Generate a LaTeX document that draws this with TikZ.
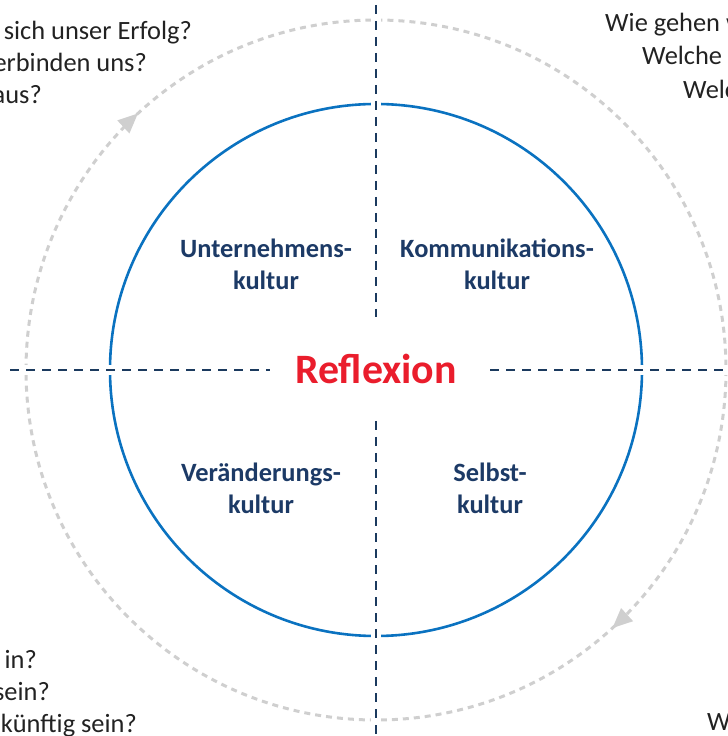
\documentclass[tikz,border=0pt]{standalone}
\usepackage{fontspec}
\setmainfont{Carlito}
\usetikzlibrary{calc, arrows.meta, decorations.markings}

\definecolor{kreisblau}{HTML}{0A72C0}
\definecolor{achsenblau}{HTML}{1B3A5E}
\definecolor{textblau}{HTML}{1C3A66}
\definecolor{reflexrot}{HTML}{EA1D2C}
\definecolor{pfeilgrau}{HTML}{CFCFCF}
\definecolor{fragegrau}{HTML}{222222}

\begin{document}
\begin{tikzpicture}[x=1bp, y=1bp,
    frage/.style={inner sep=0pt, text=fragegrau, font=\fontsize{26.5}{32}\selectfont},
    kultur/.style={inner sep=0pt, align=center, text=textblau, font=\fontsize{26.5}{32}\selectfont\bfseries},
    achse/.style={achsenblau, line width=2.2bp, dash pattern=on 9bp off 7bp},
    halo/.style={white, line width=10bp}]
    \useasboundingbox (0,0) rectangle (728,736);
    \clip (0,0) rectangle (728,736);

    \coordinate (M) at (376,366);
    \coordinate (O) at (376,731);
    \coordinate (U) at (376,0);
    \coordinate (L) at (10,366);
    \coordinate (R) at (728,366);

    % grauer Kreis mit Pfeilen (im Uhrzeigersinn)
    \draw[pfeilgrau, line width=3bp, dash pattern=on 6bp off 5bp,
        postaction={decorate},
        decoration={markings,
            mark=at position 0.132 with {\arrow[pfeilgrau]{Triangle[length=20bp, width=17bp]}},
            mark=at position 0.631 with {\arrow[pfeilgrau]{Triangle[length=20bp, width=17bp]}}}]
        ($(M)+(350,0)$) arc[start angle=0, end angle=-360, radius=350];

    \draw[kreisblau, line width=2.6bp] (M) circle (266);

    \draw[halo] (O) -- (U);
    \draw[halo] (L) -- (R);
    \draw[achse] (O) -- (U);
    \draw[achse] (L) -- (R);

    \node[fill=white, minimum width=213bp, minimum height=103bp, text=reflexrot,
        font=\fontsize{42}{48}\selectfont\bfseries] (reflexion) at (376,367) {Reflexion};

    \node[kultur] (unternehmen) at (266,472) {Unternehmens-\\kultur};
    \node[kultur] (kommunikation) at (497,472) {Kommunikations-\\kultur};
    \node[kultur] (veraenderung) at (261,248) {Veränderungs-\\kultur};
    \node[kultur] (selbst) at (490,248) {Selbst-\\kultur};

    \node[frage, anchor=base east] (f1) at (192,696) {sich unser Erfolg?};
    \node[frage, anchor=base east] (f2) at (147,664) {erbinden uns?};
    \node[frage, anchor=base east] (f3) at (42,632) {aus?};

    \node[frage, anchor=base west] (f4) at (605,704) {Wie gehen w};
    \node[frage, anchor=base west] (f5) at (642,671) {Welche};
    \node[frage, anchor=base west] (f6) at (683,637) {Welc};

    \node[frage, anchor=base east] (f7) at (37,67) {in?};
    \node[frage, anchor=base east] (f8) at (50,35) {sein?};
    \node[frage, anchor=base east] (f9) at (137,3) {künftig sein?};

    \node[frage, anchor=base west] (f10) at (707,5) {W};
\end{tikzpicture}
\end{document}
